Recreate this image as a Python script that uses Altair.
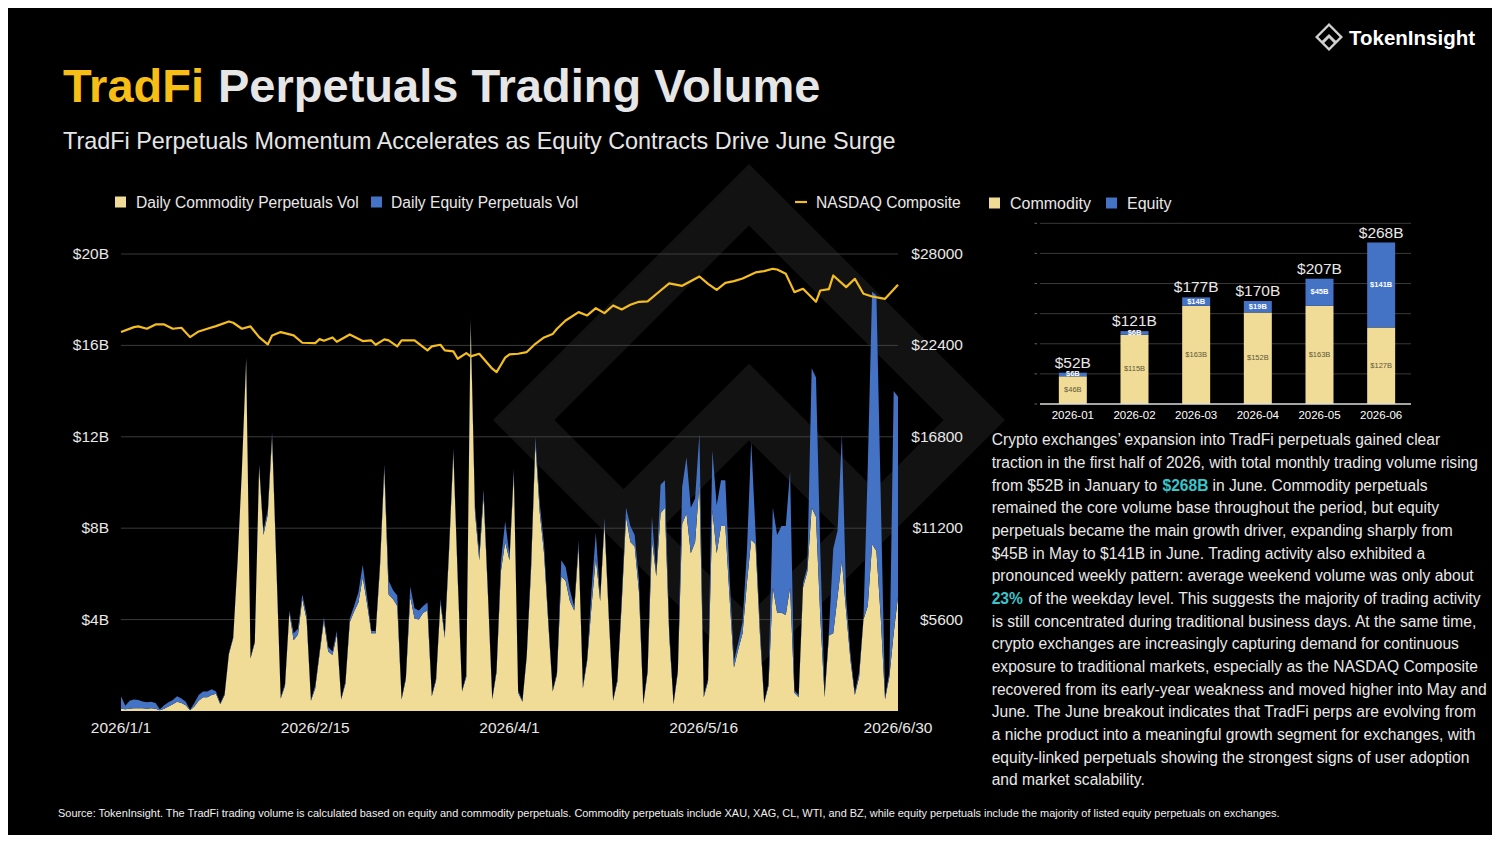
import altair as alt
import pandas as pd

FONT = "Liberation Sans"
W, H = 1484, 827
OFF = 8
YEL = "#F0DC96"
BLUE = "#4472C4"
GOLD = "#F5BE1E"
TXT = "#E8E8E8"
CYAN = "#39C5CC"


def px(v):
    return v - OFF


# ---------------- daily data, 2026-01-01 .. 2026-06-30 ----------------
commodity_daily = [
    0.10, 0.08, 0.10, 0.12, 0.12, 0.12, 0.10, 0.12, 0.10, 0.03,
    0.10, 0.20, 0.30, 0.40, 0.35, 0.25, 0.03, 0.20, 0.45, 0.60,
    0.60, 0.70, 0.75, 0.30, 0.70, 2.50, 3.20, 6.50, 10.50, 15.40,
    2.30, 3.00, 10.70, 7.70, 8.60, 12.00, 6.30, 0.55, 1.10, 4.30,
    3.10, 3.35, 4.90, 4.00, 0.45, 1.00, 2.50, 3.95, 2.60, 2.45,
    3.35, 0.50, 1.20, 3.90, 4.35, 4.75, 5.85, 4.70, 3.40, 3.40,
    6.30, 10.60, 5.10, 4.90, 4.60, 0.50, 1.40, 5.00, 4.05, 4.00,
    4.30, 4.40, 0.65, 1.35, 4.75, 3.20, 7.00, 11.30, 5.80, 0.85,
    1.50, 17.00, 8.70, 6.60, 9.40, 5.10, 0.50, 1.70, 6.10, 7.40,
    6.60, 10.40, 0.80, 0.40, 2.40, 6.20, 11.70, 8.70, 6.90, 3.80,
    0.85, 1.60, 5.90, 5.70, 4.80, 4.40, 7.20, 1.00, 2.20, 4.60,
    6.70, 4.80, 8.20, 4.10, 0.45, 1.30, 4.70, 8.50, 7.40, 7.20,
    5.20, 0.30, 1.70, 7.50, 5.90, 8.65, 8.90, 3.30, 0.30, 1.70,
    8.20, 8.65, 6.90, 7.40, 10.00, 0.60, 1.30, 8.80, 6.90, 8.10,
    8.10, 4.90, 1.90, 2.70, 3.40, 5.60, 7.50, 7.30, 3.40, 0.35,
    1.10, 5.40, 4.30, 4.30, 4.20, 5.40, 0.80, 0.60, 5.40, 6.10,
    8.90, 8.50, 4.10, 0.60, 3.30, 3.40, 5.00, 6.60, 4.30, 2.20,
    0.70, 1.50, 4.00, 4.60, 7.30, 7.00, 4.10, 0.50, 1.50, 3.40,
    5.00,
]
equity_daily = [
    0.55, 0.15, 0.35, 0.38, 0.36, 0.30, 0.28, 0.28, 0.25, 0.05,
    0.15, 0.18, 0.18, 0.25, 0.20, 0.15, 0.03, 0.15, 0.25, 0.25,
    0.25, 0.25, 0.10, 0.05, 0.05, 0.05, 0.05, 0.05, 0.05, 0.10,
    0.05, 0.05, 0.10, 0.20, 0.20, 0.20, 0.20, 0.05, 0.10, 0.10,
    0.30, 0.25, 0.20, 0.20, 0.05, 0.10, 0.10, 0.15, 0.20, 0.15,
    0.15, 0.05, 0.10, 0.15, 0.25, 0.45, 0.55, 0.30, 0.10, 0.10,
    0.20, 0.20, 0.60, 0.40, 0.45, 0.05, 0.10, 0.45, 0.45, 0.40,
    0.30, 0.35, 0.05, 0.10, 0.15, 0.15, 0.20, 0.20, 0.20, 0.05,
    0.10, 0.20, 0.30, 0.30, 0.30, 0.20, 0.05, 0.10, 0.40, 0.90,
    0.20, 0.20, 0.10, 0.05, 0.10, 0.30, 0.30, 0.40, 0.40, 0.20,
    0.05, 0.10, 0.70, 0.60, 0.50, 0.15, 0.25, 0.10, 0.10, 0.70,
    1.10, 0.10, 0.25, 0.20, 0.05, 0.10, 0.30, 0.40, 0.70, 0.50,
    0.50, 0.05, 0.10, 1.00, 0.10, 1.25, 1.20, 0.30, 0.05, 0.10,
    1.60, 2.45, 2.00, 1.90, 2.15, 0.10, 0.10, 2.60, 2.10, 2.00,
    2.00, 0.90, 0.30, 0.30, 0.50, 1.40, 4.30, 0.50, 0.40, 0.05,
    0.10, 3.50, 3.40, 3.80, 3.90, 5.10, 0.10, 0.10, 0.20, 0.20,
    6.10, 6.10, 2.90, 0.10, 0.20, 3.70, 2.90, 5.50, 0.60, 0.30,
    0.10, 0.20, 0.05, 6.10, 11.05, 11.20, 5.30, 0.10, 0.20, 10.60,
    8.75,
]

# NASDAQ Composite (day index from 2026-01-01, value)
nasdaq_day = [
    0, 3, 4, 6, 8, 10, 12, 14, 16, 18, 20, 22, 25, 26, 28, 30, 32, 34, 35, 37,
    40, 42, 45, 46, 47, 49, 50, 53, 56, 58, 59, 61, 62, 64, 65, 68, 71, 72, 74, 75,
    77, 78, 80, 81, 83, 86, 87, 88, 89, 90, 92, 94, 96, 98, 100, 101, 103, 104, 106, 108,
    110, 112, 114, 116, 118, 120, 122, 125, 127, 130, 134, 136, 138, 140, 142, 144, 147, 149, 151, 152,
    154, 156, 158, 161, 162, 164, 165, 168, 170, 172, 174, 177, 180,
]
nasdaq_value = [
    23215, 23520, 23562, 23420, 23684, 23684, 23420, 23480, 22907, 23256,
    23420, 23582, 23868, 23786, 23420, 23562, 22907, 22460, 23011, 23215,
    23011, 22562, 22541, 22786, 22684, 22888, 22623, 23072, 22664, 22705,
    22439, 22766, 22705, 22338, 22705, 22705, 22093, 22338, 22439, 22093,
    22032, 21583, 21930, 21726, 21889, 20971, 20767, 21200, 21650, 21848,
    21889, 21991, 22500, 22888, 23093, 23420, 23929, 24093, 24439, 24235,
    24680, 24378, 24847, 24602, 24888, 25070, 25100, 25765, 26200, 26050,
    26622, 26173, 25806, 26235, 26337, 26500, 26870, 26949, 27093, 27050,
    26786, 25663, 25867, 25070, 25765, 25850, 26684, 25969, 26480, 25561,
    25398, 25255, 26120,
]

x_tick_days = [0, 45, 90, 135, 180]
x_tick_labels = ["2026/1/1", "2026/2/15", "2026/4/1", "2026/5/16", "2026/6/30"]
vol_ticks = [4, 8, 12, 16, 20]
vol_tick_labels = ["$4B", "$8B", "$12B", "$16B", "$20B"]
ndx_ticks = [5600, 11200, 16800, 22400, 28000]
ndx_tick_labels = ["$5600", "$11200", "$16800", "$22400", "$28000"]

# ---------------- monthly data ----------------
months = ["2026-01", "2026-02", "2026-03", "2026-04", "2026-05", "2026-06"]
month_commodity = [46, 115, 163, 152, 163, 127]
month_equity = [6, 6, 14, 19, 45, 141]
month_total = [52, 121, 177, 170, 207, 268]
bar_ticks = [0, 50, 100, 150, 200, 250, 300]

series_names = ["Commodity", "Equity"]

paragraph = [
    "Crypto exchanges\u2019 expansion into TradFi perpetuals gained clear",
    "traction in the first half of 2026, with total monthly trading volume rising",
    None,
    "remained the core volume base throughout the period, but equity",
    "perpetuals became the main growth driver, expanding sharply from",
    "$45B in May to $141B in June. Trading activity also exhibited a",
    "pronounced weekly pattern: average weekend volume was only about",
    None,
    "is still concentrated during traditional business days. At the same time,",
    "crypto exchanges are increasingly capturing demand for continuous",
    "exposure to traditional markets, especially as the NASDAQ Composite",
    "recovered from its early-year weakness and moved higher into May and",
    "June. The June breakout indicates that TradFi perps are evolving from",
    "a niche product into a meaningful growth segment for exchanges, with",
    "equity-linked perpetuals showing the strongest signs of user adoption",
    "and market scalability.",
]

ONE = pd.DataFrame({"k": [0]})


def txt(text, x, y, size, color=TXT, weight="normal", align="left", baseline="alphabetic"):
    return alt.Chart(ONE).mark_text(
        text=text, font=FONT, fontSize=size, color=color, fontWeight=weight,
        align=align, baseline=baseline,
    ).encode(x=alt.value(px(x)), y=alt.value(px(y)))


def box(x1, y1, x2, y2, color):
    return alt.Chart(ONE).mark_rect(color=color).encode(
        x=alt.value(px(x1)), x2=alt.value(px(x2)), y=alt.value(px(y1)), y2=alt.value(px(y2))
    )


LOGO_PATH = (
    "M0,-1L1,0L0,1L-1,0Z"
    "M0,-0.76L-0.76,0L0,0.76L0.76,0Z"
    "M0,-0.22L0.6,0.38L0.45,0.53L0,0.08L-0.45,0.53L-0.6,0.38Z"
)


def logo(cx, cy, diag, color):
    return alt.Chart(ONE).mark_point(
        shape=LOGO_PATH, filled=True, color=color, opacity=1, size=diag * diag, strokeWidth=0
    ).encode(x=alt.value(px(cx)), y=alt.value(px(cy)))


layers = []

# watermark
layers.append(logo(749, 420, 512, "#121212"))

# ---------------- main chart ----------------
X_MAIN = alt.Scale(domain=[0, 180], range=[px(121), px(898)], nice=False, zero=False)
Y_VOL = alt.Scale(domain=[0, 20], range=[px(711), px(254)], nice=False)
Y_NDX = alt.Scale(domain=[0, 28000], range=[px(711), px(254)], nice=False)

grid = alt.Chart(pd.DataFrame({"v": vol_ticks})).mark_rule(color="#4a4a4a", strokeWidth=0.8).encode(
    y=alt.Y("v:Q", scale=Y_VOL, axis=None), x=alt.value(px(121)), x2=alt.value(px(898))
)
layers.append(grid)

n = len(commodity_daily)
daily = pd.DataFrame({
    "day": list(range(n)) * 2,
    "series": [series_names[0]] * n + [series_names[1]] * n,
    "value": commodity_daily + equity_daily,
    "ord": [0] * n + [1] * n,
})
area = alt.Chart(daily).mark_area(interpolate="linear").encode(
    x=alt.X("day:Q", scale=X_MAIN, axis=None),
    y=alt.Y("value:Q", stack="zero", scale=Y_VOL, axis=None),
    color=alt.Color("series:N", scale=alt.Scale(domain=series_names, range=[YEL, BLUE]), legend=None),
    order=alt.Order("ord:Q", sort="ascending"),
)
layers.append(area)

nas = pd.DataFrame({"day": nasdaq_day, "value": nasdaq_value})
line = alt.Chart(nas).mark_line(color=GOLD, strokeWidth=2.2, strokeJoin="round").encode(
    x=alt.X("day:Q", scale=X_MAIN, axis=None),
    y=alt.Y("value:Q", scale=Y_NDX, axis=None),
)
layers.append(line)

ylab = alt.Chart(pd.DataFrame({"v": vol_ticks, "t": vol_tick_labels})).mark_text(
    align="right", baseline="middle", font=FONT, fontSize=15.5, color=TXT
).encode(y=alt.Y("v:Q", scale=Y_VOL, axis=None), x=alt.value(px(109)), text="t:N")
layers.append(ylab)

rlab = alt.Chart(pd.DataFrame({"v": ndx_ticks, "t": ndx_tick_labels})).mark_text(
    align="right", baseline="middle", font=FONT, fontSize=15.5, color=TXT
).encode(y=alt.Y("v:Q", scale=Y_NDX, axis=None), x=alt.value(px(963)), text="t:N")
layers.append(rlab)

xlab = alt.Chart(pd.DataFrame({"d": x_tick_days, "t": x_tick_labels})).mark_text(
    align="center", baseline="middle", font=FONT, fontSize=15.5, color=TXT
).encode(x=alt.X("d:Q", scale=X_MAIN, axis=None), y=alt.value(px(728)), text="t:N")
layers.append(xlab)

# main legends
layers.append(box(115, 196.5, 126, 207.5, YEL))
layers.append(txt("Daily Commodity Perpetuals Vol", 136, 207.5, 15.6))
layers.append(box(371, 196.5, 382, 207.5, BLUE))
layers.append(txt("Daily Equity Perpetuals Vol", 391, 207.5, 15.6))
layers.append(alt.Chart(ONE).mark_rule(color=GOLD, strokeWidth=2.2).encode(
    x=alt.value(px(795)), x2=alt.value(px(807)), y=alt.value(px(202))))
layers.append(txt("NASDAQ Composite", 816, 207.5, 15.6))

# ---------------- monthly bar chart ----------------
X_BAR = alt.Scale(domain=months, range=[px(1042), px(1412)], paddingInner=0.546, paddingOuter=0.273)
Y_BAR = alt.Scale(domain=[0, 300], range=[px(404), px(223.3)], nice=False, zero=True)

bgrid = alt.Chart(pd.DataFrame({"v": bar_ticks[1:]})).mark_rule(color="#474747", strokeWidth=0.8).encode(
    y=alt.Y("v:Q", scale=Y_BAR, axis=None), x=alt.value(px(1040)), x2=alt.value(px(1411))
)
layers.append(bgrid)
bticks = alt.Chart(pd.DataFrame({"v": bar_ticks})).mark_rule(color="#666666", strokeWidth=1).encode(
    y=alt.Y("v:Q", scale=Y_BAR, axis=None), x=alt.value(px(1034.5)), x2=alt.value(px(1037))
)
layers.append(bticks)

bars_df = pd.DataFrame({
    "month": months * 2,
    "series": [series_names[0]] * 6 + [series_names[1]] * 6,
    "value": month_commodity + month_equity,
    "ord": [0] * 6 + [1] * 6,
})
bars = alt.Chart(bars_df).mark_bar().encode(
    x=alt.X("month:N", scale=X_BAR, axis=None, sort=months),
    y=alt.Y("value:Q", stack="zero", scale=Y_BAR, axis=None),
    color=alt.Color("series:N", scale=alt.Scale(domain=series_names, range=[YEL, BLUE]), legend=None),
    order=alt.Order("ord:Q", sort="ascending"),
)
layers.append(bars)

bbase = alt.Chart(pd.DataFrame({"v": [0]})).mark_rule(color="#DDDDDD", strokeWidth=1.3).encode(
    y=alt.Y("v:Q", scale=Y_BAR, axis=None), x=alt.value(px(1040)), x2=alt.value(px(1411))
)
layers.append(bbase)

seg = pd.DataFrame({"month": months, "c": month_commodity, "e": month_equity, "tot": month_total})
comm_lab = alt.Chart(seg).transform_calculate(
    mid="datum.c / 2", lab="'$' + datum.c + 'B'"
).mark_text(font=FONT, fontSize=7.5, color="#5e573c", baseline="middle").encode(
    x=alt.X("month:N", scale=X_BAR, axis=None, sort=months),
    y=alt.Y("mid:Q", scale=Y_BAR, axis=None), text="lab:N")
layers.append(comm_lab)
eq_lab = alt.Chart(seg).transform_calculate(
    mid="datum.c + datum.e / 2", lab="'$' + datum.e + 'B'"
).mark_text(font=FONT, fontSize=7.5, color="#FFFFFF", fontWeight="bold", baseline="middle").encode(
    x=alt.X("month:N", scale=X_BAR, axis=None, sort=months),
    y=alt.Y("mid:Q", scale=Y_BAR, axis=None), text="lab:N")
layers.append(eq_lab)
tot_lab = alt.Chart(seg).transform_calculate(
    top="datum.c + datum.e", lab="'$' + datum.tot + 'B'"
).mark_text(font=FONT, fontSize=15.5, color=TXT, baseline="alphabetic", dy=-5).encode(
    x=alt.X("month:N", scale=X_BAR, axis=None, sort=months),
    y=alt.Y("top:Q", scale=Y_BAR, axis=None), text="lab:N")
layers.append(tot_lab)
mlab = alt.Chart(seg).mark_text(font=FONT, fontSize=11.5, color="#FFFFFF", baseline="middle").encode(
    x=alt.X("month:N", scale=X_BAR, axis=None, sort=months),
    y=alt.value(px(416)), text="month:N")
layers.append(mlab)

layers.append(box(989, 197.5, 1000, 208.5, YEL))
layers.append(txt("Commodity", 1010, 208.5, 16))
layers.append(box(1106, 197.5, 1117, 208.5, BLUE))
layers.append(txt("Equity", 1127, 208.5, 16))

# ---------------- titles ----------------
layers.append(txt("TradFi", 63, 102, 47, color="#F7BE16", weight="bold"))
layers.append(txt("Perpetuals Trading Volume", 218, 102, 47, color="#E6E6E6", weight="bold"))
layers.append(txt("TradFi Perpetuals Momentum Accelerates as Equity Contracts Drive June Surge",
                  63, 148.5, 23.4, color="#E6E6E6"))

# ---------------- paragraph ----------------
P_X = 991.7
for k, line_text in enumerate(paragraph):
    yb = 445.3 + 22.67 * k
    if line_text is not None:
        layers.append(txt(line_text, P_X, yb, 15.6))
yb = 445.3 + 22.67 * 2
layers.append(txt("from $52B in January to", P_X, yb, 15.6))
layers.append(txt("$268B", 1162.5, yb, 15.6, color=CYAN, weight="bold"))
layers.append(txt("in June. Commodity perpetuals", 1212.5, yb, 15.6))
yb = 445.3 + 22.67 * 7
layers.append(txt("23%", P_X, yb, 15.6, color=CYAN, weight="bold"))
layers.append(txt("of the weekday level. This suggests the majority of trading activity", 1028.5, yb, 15.6))

# ---------------- footer & brand ----------------
layers.append(txt(
    "Source: TokenInsight. The TradFi trading volume is calculated based on equity and commodity perpetuals. "
    "Commodity perpetuals include XAU, XAG, CL, WTI, and BZ, while equity perpetuals include the majority of "
    "listed equity perpetuals on exchanges.", 58, 816.5, 10.95, color="#F0F0F0"))
layers.append(logo(1329, 37, 28, "#D0D0D0"))
layers.append(txt("TokenInsight", 1349, 45, 20.5, color="#FFFFFF", weight="bold"))

chart = alt.layer(*layers).resolve_scale(
    x="independent", y="independent", color="independent"
).properties(
    width=W, height=H, autosize=alt.AutoSizeParams(type="none"), padding=0, background="#000000"
).configure_view(stroke=None)

chart.save("out.html", embed_options={"renderer": "svg", "actions": False})
